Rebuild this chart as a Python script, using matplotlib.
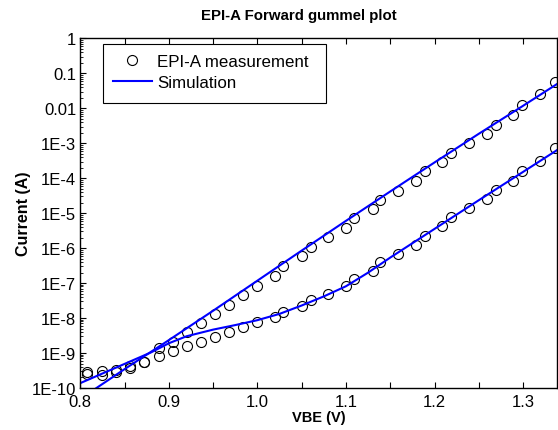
import matplotlib
matplotlib.use("Agg")
import matplotlib.pyplot as plt
import numpy as np
from matplotlib.patches import Rectangle
from matplotlib.ticker import FixedLocator, FuncFormatter, MultipleLocator, NullFormatter

plt.rcParams['font.family'] = ['Liberation Sans', 'DejaVu Sans']

# Measurement voltages (V)
vbe_meas = [0.808, 0.824, 0.840, 0.856, 0.872, 0.889, 0.905, 0.920, 0.936, 0.952,
            0.968, 0.984, 0.999, 1.020, 1.029, 1.050, 1.060, 1.080, 1.100, 1.109,
            1.130, 1.139, 1.159, 1.179, 1.189, 1.209, 1.219, 1.239, 1.259, 1.269,
            1.289, 1.299, 1.319, 1.336]
# log10 of collector current (A)
log_ic_meas = [-9.585, -9.620, -9.534, -9.414, -9.248, -8.865, -8.693, -8.407, -8.141, -7.884,
               -7.626, -7.340, -7.075, -6.789, -6.520, -6.234, -5.959, -5.691, -5.425, -5.147,
               -4.881, -4.615, -4.358, -4.072, -3.803, -3.529, -3.280, -2.994, -2.737, -2.471,
               -2.185, -1.907, -1.593, -1.241]
# log10 of base current (A)
log_ib_meas = [-9.551, -9.505, -9.477, -9.371, -9.248, -9.094, -8.933, -8.790, -8.676, -8.550,
               -8.407, -8.264, -8.104, -7.961, -7.818, -7.664, -7.475, -7.298, -7.092, -6.875,
               -6.646, -6.405, -6.154, -5.902, -5.645, -5.376, -5.119, -4.861, -4.595, -4.329,
               -4.072, -3.786, -3.500, -3.146]

# Simulation curves
vbe_sim_ic = [0.80, 0.85, 0.90, 0.95, 1.00, 1.05, 1.10, 1.15, 1.20, 1.25, 1.30, 1.34]
log_ic_sim = [-10.31, -9.46, -8.63, -7.79, -6.93, -6.07, -5.22, -4.38, -3.55, -2.73, -1.93, -1.28]
vbe_sim_ib = [0.80, 0.85, 0.88, 0.90, 0.92, 0.95, 0.975, 1.00, 1.025, 1.05, 1.075, 1.10,
              1.125, 1.15, 1.20, 1.25, 1.30, 1.34]
log_ib_sim = [-9.86, -9.31, -8.98, -8.72, -8.52, -8.33, -8.20, -8.06, -7.88, -7.64, -7.38, -7.09,
              -6.70, -6.27, -5.45, -4.63, -3.82, -3.17]

ytick_labels = ['1E-10', '1E-9', '1E-8', '1E-7', '1E-6', '1E-5', '1E-4', '1E-3', '0.01', '0.1', '1']

fig = plt.figure(figsize=(5.58, 4.31), dpi=100)
ax = fig.add_axes([0.1439, 0.0974, 0.8538, 0.8114])

ic_m = np.power(10.0, log_ic_meas)
ib_m = np.power(10.0, log_ib_meas)
ax.plot(vbe_meas, ic_m, 'o', mfc='none', mec='black', mew=0.8, ms=7.2,
        label='EPI-A measurement')
ax.plot(vbe_meas, ib_m, 'o', mfc='none', mec='black', mew=0.8, ms=7.2)
ax.plot(vbe_sim_ic, np.power(10.0, log_ic_sim), '-', color='#0000ff', lw=1.5, label='Simulation')
ax.plot(vbe_sim_ib, np.power(10.0, log_ib_sim), '-', color='#0000ff', lw=1.5)

ax.set_yscale('log')
ax.set_xlim(0.8, 1.338)
ax.set_ylim(1e-10, 1)

yt = [10.0 ** k for k in range(-10, 1)]
ax.yaxis.set_major_locator(FixedLocator(yt))
ax.yaxis.set_major_formatter(FuncFormatter(lambda v, p: ytick_labels[int(round(np.log10(v))) + 10]))
minors = [m * 10.0 ** k for k in range(-10, 0) for m in range(2, 10)]
ax.yaxis.set_minor_locator(FixedLocator(minors))
ax.yaxis.set_minor_formatter(NullFormatter())

ax.xaxis.set_major_locator(MultipleLocator(0.1))
ax.xaxis.set_minor_locator(MultipleLocator(0.05))
ax.xaxis.set_major_formatter(FuncFormatter(lambda v, p: f"{v:.1f}"))

ax.tick_params(axis='x', which='both', direction='in', length=4, width=0.8, top=True,
               labelsize=12, pad=4)
ax.tick_params(axis='y', which='major', direction='in', length=4, width=0.8, labelsize=12, pad=3)
ax.tick_params(axis='y', which='minor', direction='in', length=2, width=0.6)
for s in ax.spines.values():
    s.set_linewidth(1.0)

ax.set_xlabel('VBE (V)', fontsize=10.5, fontweight='bold', labelpad=1)
ax.set_ylabel('Current (A)', fontsize=11.5, fontweight='bold', labelpad=0.8)
fig.text(0.535, 0.963, 'EPI-A Forward gummel plot', fontsize=10.8, fontweight='bold',
         ha='center', va='center')

# legend box (drawn separately so its size matches the reference)
box = Rectangle((102.7 / 558, 1 - 104 / 431), 223 / 558, 59 / 431,
                transform=fig.transFigure, facecolor='white', edgecolor='black',
                linewidth=0.8, zorder=4)
ax.add_patch(box)
box.set_clip_on(False)

leg = ax.legend(loc='upper left', bbox_to_anchor=(0.047, 0.985), fontsize=12.2,
                frameon=False, borderpad=0.6, handlelength=2.3, handletextpad=0.3,
                labelspacing=0.35, borderaxespad=0)
leg.set_zorder(5)

fig.savefig('out.png', dpi=100)
